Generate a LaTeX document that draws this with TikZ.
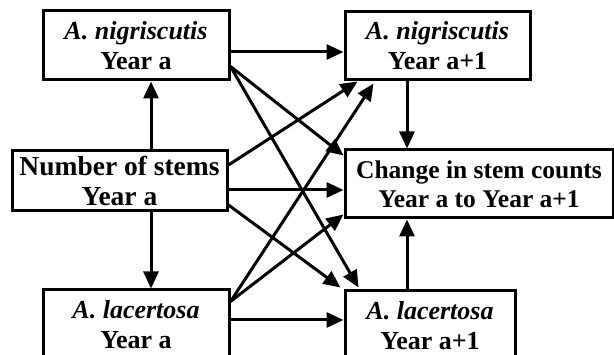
\documentclass[tikz,border=0pt]{standalone}
\usepackage{fontspec}
\setmainfont{Liberation Serif}
\usetikzlibrary{arrows.meta,calc}
\begin{document}
\begin{tikzpicture}[x=1pt,y=1pt,
  box/.style={draw=black,line width=3pt,fill=white,inner sep=0pt,align=center,
    font=\fontsize{26}{30}\selectfont\bfseries},
  conn/.style={line width=3pt,-{Triangle[length=17pt,width=15pt]}}]
\useasboundingbox (0,0) rectangle (614,355);
\clip (0,0) rectangle (614,355);
% boxes
\node[box,minimum width=186pt,minimum height=69pt] (nA) at (136,309.5) {\textit{A. nigriscutis}\\Year a};
\node[box,minimum width=215pt,minimum height=60pt,font=\fontsize{27.5}{30}\selectfont\bfseries] (stems) at (119.5,174) {Number of stems\\Year a};
\node[box,minimum width=186pt,minimum height=69pt] (lA) at (136,30.5) {\textit{A. lacertosa}\\Year a};
\node[box,minimum width=185pt,minimum height=68pt] (nB) at (437.5,309) {\textit{A. nigriscutis}\\Year a+1};
\node[box,minimum width=268pt,minimum height=68pt,font=\fontsize{25.5}{29}\selectfont\bfseries] (ch) at (479,171) {Change in stem counts\\Year a to Year a+1};
\node[box,minimum width=170pt,minimum height=69pt] (lB) at (430,29.5) {\textit{A. lacertosa}\\Year a+1};
% connectors
\draw[conn] ([xshift=31.5pt]stems.north) -- ([xshift=15pt]nA.south);
\draw[conn] ([xshift=31.5pt]stems.south) -- ([xshift=15pt]lA.north);
\draw[conn] ([yshift=-6.5pt]nA.east) -- ([yshift=-6pt]nB.west);
\draw[conn] ([yshift=4.5pt]lA.east) -- ([yshift=5.5pt]lB.west);
\draw[conn] ([xshift=-30.5pt]nB.south) -- ([xshift=-72pt]ch.north);
\draw[conn] ([xshift=-23pt]lB.north) -- ([xshift=-72pt]ch.south);
\draw[conn] ([yshift=16pt]stems.east) -- ([xshift=-80pt]nB.south);
\draw[conn] ([yshift=-9pt]stems.east) -- ([yshift=-6pt]ch.west);
\draw[conn] ([yshift=-24pt]stems.east) -- ([xshift=-3pt,yshift=2pt]lB.north west);
\draw[conn] ([yshift=15pt]nA.south east) -- ([yshift=-7pt]ch.north west);
\draw[conn] ([yshift=15pt]nA.south east) -- ([xshift=15pt,yshift=2pt]lB.north west);
\draw[conn] ([yshift=-13pt]lA.north east) -- ([xshift=30pt,yshift=-2pt]nB.south west);
\draw[conn] ([yshift=-13pt]lA.north east) -- ([yshift=5pt]ch.south west);
\end{tikzpicture}
\end{document}
